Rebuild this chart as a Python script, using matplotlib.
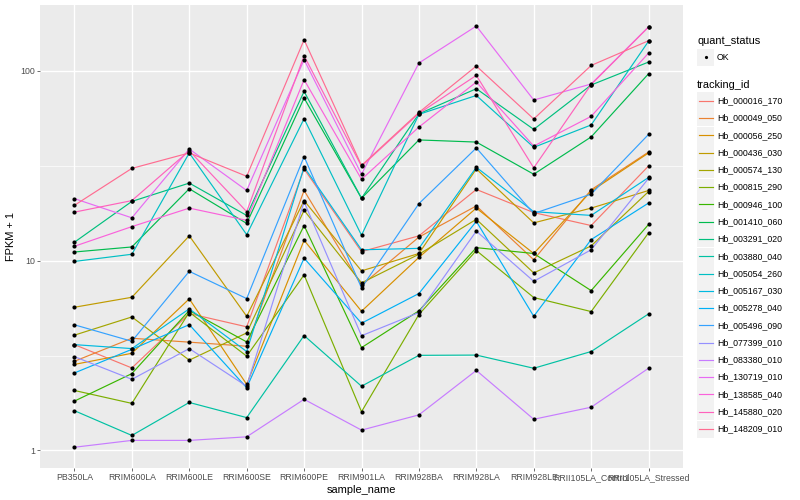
import numpy as np
import matplotlib
matplotlib.use("Agg")
import matplotlib.pyplot as plt
from matplotlib.patches import Rectangle

samples = ["PB350LA", "RRIM600LA", "RRIM600LE", "RRIM600SE", "RRIM600PE",
           "RRIM901LA", "RRIM928BA", "RRIM928LA", "RRIM928LE",
           "RRII105LA_Control", "RRII105LA_Stressed"]

tracking_ids = ["Hb_000016_170", "Hb_000049_050", "Hb_000056_250", "Hb_000436_030",
                "Hb_000574_130", "Hb_000815_290", "Hb_000946_100", "Hb_001410_060",
                "Hb_003291_020", "Hb_003880_040", "Hb_005054_260", "Hb_005167_030",
                "Hb_005278_040", "Hb_005496_090", "Hb_077399_010", "Hb_083380_010",
                "Hb_130719_010", "Hb_138585_040", "Hb_145880_020", "Hb_148209_010"]

# FPKM + 1 values per tracking id, in sample order
hb_000016_170 = [3.61, 2.72, 5.26, 4.48, 30.4, 11.15, 13.5, 23.7, 17.9, 15.3, 31.5]
hb_000049_050 = [2.95, 3.90, 3.72, 3.54, 23.4, 7.41, 13.3, 19.4, 10.1, 23.6, 37.3]
hb_000056_250 = [2.84, 3.25, 6.29, 2.23, 12.8, 5.41, 10.4, 18.9, 10.9, 23.2, 36.9]
hb_000436_030 = [5.68, 6.41, 13.5, 5.09, 20.7, 8.83, 10.9, 30.4, 15.8, 18.9, 23.4]
hb_000574_130 = [4.05, 5.05, 2.99, 4.16, 18.4, 7.63, 10.8, 16.5, 8.61, 11.95, 23.1]
hb_000815_290 = [2.07, 1.77, 5.35, 3.14, 8.41, 1.60, 5.20, 11.3, 6.39, 5.39, 14.0]
hb_000946_100 = [1.82, 2.54, 5.46, 3.73, 15.3, 3.48, 5.44, 11.7, 10.9, 6.95, 15.5]
hb_001410_060 = [11.1, 11.8, 23.9, 15.7, 71.8, 21.3, 43.2, 42.1, 28.5, 44.8, 96.4]
hb_003291_020 = [12.5, 20.5, 25.6, 17.3, 77.8, 21.3, 59.3, 80.4, 49.1, 84.1, 111.1]
hb_003880_040 = [1.62, 1.20, 1.79, 1.49, 4.03, 2.18, 3.17, 3.18, 2.71, 3.32, 5.24]
hb_005054_260 = [9.9, 10.8, 36.9, 13.7, 55.9, 13.6, 58.9, 74.1, 39.5, 51.8, 143.0]
hb_005167_030 = [3.61, 3.44, 5.57, 3.32, 31.1, 11.4, 11.6, 31.0, 18.1, 17.3, 27.4]
hb_005278_040 = [2.56, 3.41, 4.60, 2.14, 10.3, 4.68, 6.71, 16.1, 5.09, 12.9, 20.1]
hb_005496_090 = [4.59, 3.76, 8.78, 6.31, 35.3, 7.18, 19.95, 39.2, 17.7, 22.4, 46.2]
hb_077399_010 = [3.12, 2.37, 3.44, 2.18, 20.4, 4.02, 5.33, 14.3, 7.78, 11.4, 27.1]
hb_083380_010 = [1.04, 1.13, 1.13, 1.18, 1.86, 1.28, 1.54, 2.64, 1.46, 1.69, 2.71]
hb_130719_010 = [21.2, 16.8, 38.7, 23.4, 114.3, 28.5, 109.8, 171.9, 70.1, 85.1, 170.4]
hb_138585_040 = [11.9, 15.1, 18.9, 16.3, 89.7, 26.8, 50.5, 87.2, 40.1, 57.5, 123.9]
hb_145880_020 = [18.0, 20.7, 37.9, 18.1, 119.9, 31.4, 59.6, 94.5, 30.8, 84.6, 169.8]
hb_148209_010 = [19.55, 30.6, 36.9, 27.8, 145.6, 31.7, 60.3, 105.9, 55.7, 106.6, 143.9]

series = [hb_000016_170, hb_000049_050, hb_000056_250, hb_000436_030, hb_000574_130,
          hb_000815_290, hb_000946_100, hb_001410_060, hb_003291_020, hb_003880_040,
          hb_005054_260, hb_005167_030, hb_005278_040, hb_005496_090, hb_077399_010,
          hb_083380_010, hb_130719_010, hb_138585_040, hb_145880_020, hb_148209_010]

colors = ["#F8766D", "#EA8331", "#D89000", "#C09B00", "#A3A500", "#7CAE00", "#39B600",
          "#00BB4E", "#00BF7D", "#00C1A3", "#00BFC4", "#00BAE0", "#00B0F6", "#35A2FF",
          "#9590FF", "#C77CFF", "#E76BF3", "#FA62DB", "#FF62BC", "#FF6C91"]

FONT = ["Liberation Sans", "DejaVu Sans"]
plt.rcParams['font.family'] = FONT

W, H = 800, 500
fig = plt.figure(figsize=(W / 100, H / 100), dpi=100)
fig.patch.set_facecolor("white")

# panel in pixel coordinates
px_l, px_r, px_t, px_b = 40, 683, 5, 468.3
ax = fig.add_axes([px_l / W, 1 - px_b / H, (px_r - px_l) / W, (px_b - px_t) / H])
ax.set_facecolor("#EBEBEB")
for s in ax.spines.values():
    s.set_visible(False)

x = np.arange(len(samples))
for vals, col in zip(series, colors):
    ax.plot(x, vals, color=col, lw=0.85, zorder=3, solid_capstyle="butt")
for vals in series:
    ax.plot(x, vals, ls="none", marker="o", ms=3.0, color="black", mec="black", mew=0, zorder=4)

ax.set_yscale("log")
allv = np.concatenate([np.asarray(v) for v in series])
lo, hi = np.log10(allv.min()), np.log10(allv.max())
pad = 0.05 * (hi - lo)
ax.set_ylim(10 ** (lo - pad), 10 ** (hi + pad))
ax.set_xlim(-0.6, len(samples) - 0.4)

ax.set_yticks([1, 10, 100])
ax.set_yticklabels(["1", "10", "100"])
ax.yaxis.set_minor_locator(matplotlib.ticker.FixedLocator([10 ** 0.5, 10 ** 1.5]))
ax.yaxis.set_minor_formatter(matplotlib.ticker.NullFormatter())
ax.set_xticks(x)
ax.set_xticklabels(samples)

ax.grid(True, which="major", color="white", lw=1.0, zorder=0)
ax.grid(True, which="minor", axis="y", color="white", lw=0.5, zorder=0)
ax.set_axisbelow(True)
ax.tick_params(axis="both", which="major", length=2.0, width=0.5, color="#333333",
               labelsize=6.3, labelcolor="#4D4D4D", pad=1.5)
ax.tick_params(axis="y", which="minor", length=0)

ax.set_xlabel("sample_name", fontsize=7.9, color="black", labelpad=2)
ax.set_ylabel("FPKM + 1", fontsize=7.9, color="black", labelpad=3)

# legends drawn in a pixel-coordinate overlay
lg = fig.add_axes([0, 0, 1, 1], facecolor="none")
lg.set_xlim(0, W)
lg.set_ylim(H, 0)
lg.axis("off")

lx = 697
lg.text(lx, 41, "quant_status", fontsize=7.9, va="center", ha="left")
lg.add_patch(Rectangle((lx, 48.5), 17, 17, facecolor="#F2F2F2", edgecolor="none"))
lg.plot([lx + 8.5], [57], marker="o", ms=2.3, color="black", mew=0)
lg.text(lx + 20, 57, "OK", fontsize=6.3, va="center", ha="left")

lg.text(lx, 84.5, "tracking_id", fontsize=7.9, va="center", ha="left")
y0, dy = 100.7, 17.28
for i, (tid, col) in enumerate(zip(tracking_ids, colors)):
    yc = y0 + i * dy
    lg.add_patch(Rectangle((lx, yc - 8.5), 17, 17, facecolor="#F2F2F2", edgecolor="none"))
    lg.plot([lx + 1.5, lx + 15.5], [yc, yc], color=col, lw=0.85)
    lg.text(lx + 20, yc, tid, fontsize=6.3, va="center", ha="left")

fig.savefig("out.png", dpi=100)
